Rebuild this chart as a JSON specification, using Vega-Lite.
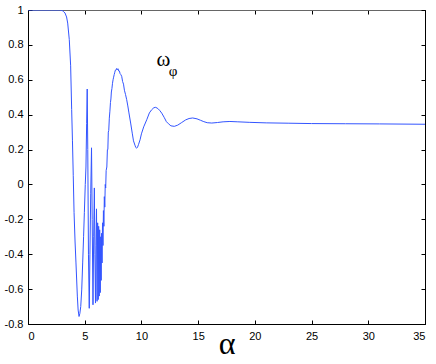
{
  "$schema": "https://vega.github.io/schema/vega-lite/v6.json",
  "width": 397,
  "height": 314,
  "autosize": {"type": "none"},
  "padding": {"left": 28, "top": 10, "right": 11, "bottom": 40},
  "background": "white",
  "config": {
    "view": {"stroke": "#000", "strokeWidth": 1},
    "axis": {
      "domainColor": "#000",
      "domainWidth": 1,
      "tickColor": "#000",
      "tickSize": -4,
      "grid": false,
      "labelFont": "Liberation Sans",
      "labelFontSize": 11,
      "labelColor": "#000"
    }
  },
  "datasets": {
    "curve": [
      {"a": 0, "w": 1}, {"a": 1, "w": 1}, {"a": 2, "w": 1}, {"a": 2.8, "w": 1}, {"a": 3.0, "w": 0.998},
      {"a": 3.15, "w": 0.99}, {"a": 3.26, "w": 0.983}, {"a": 3.4, "w": 0.96}, {"a": 3.5, "w": 0.925},
      {"a": 3.64, "w": 0.83}, {"a": 3.76, "w": 0.68}, {"a": 3.85, "w": 0.43}, {"a": 3.92, "w": 0.25},
      {"a": 3.99, "w": 0.05}, {"a": 4.06, "w": -0.16}, {"a": 4.15, "w": -0.33}, {"a": 4.23, "w": -0.45},
      {"a": 4.35, "w": -0.64}, {"a": 4.42, "w": -0.72}, {"a": 4.5, "w": -0.757}, {"a": 4.57, "w": -0.74},
      {"a": 4.65, "w": -0.7}, {"a": 4.74, "w": -0.6}, {"a": 4.82, "w": -0.45}, {"a": 4.9, "w": -0.3},
      {"a": 4.97, "w": -0.16}, {"a": 5.05, "w": 0.0}, {"a": 5.11, "w": 0.1}, {"a": 5.17, "w": 0.35},
      {"a": 5.22, "w": 0.547}, {"a": 5.27, "w": 0.2}, {"a": 5.33, "w": -0.4}, {"a": 5.4, "w": -0.71},
      {"a": 5.46, "w": -0.4}, {"a": 5.53, "w": -0.05}, {"a": 5.6, "w": 0.21}, {"a": 5.66, "w": -0.2},
      {"a": 5.73, "w": -0.69}, {"a": 5.79, "w": -0.3}, {"a": 5.85, "w": -0.02}, {"a": 5.9, "w": -0.4},
      {"a": 5.95, "w": -0.68}, {"a": 6.0, "w": -0.35}, {"a": 6.04, "w": -0.14}, {"a": 6.09, "w": -0.67},
      {"a": 6.14, "w": -0.22}, {"a": 6.19, "w": -0.66}, {"a": 6.23, "w": -0.24}, {"a": 6.28, "w": -0.64},
      {"a": 6.32, "w": -0.26}, {"a": 6.37, "w": -0.62}, {"a": 6.41, "w": -0.3}, {"a": 6.45, "w": -0.55},
      {"a": 6.49, "w": -0.28}, {"a": 6.53, "w": -0.45}, {"a": 6.57, "w": -0.22}, {"a": 6.61, "w": -0.35},
      {"a": 6.65, "w": -0.15}, {"a": 6.69, "w": -0.24}, {"a": 6.73, "w": -0.07}, {"a": 6.77, "w": -0.13},
      {"a": 6.81, "w": 0.0}, {"a": 6.85, "w": -0.02}, {"a": 6.89, "w": 0.08}, {"a": 6.95, "w": 0.1},
      {"a": 7.0, "w": 0.2}, {"a": 7.04, "w": 0.2}, {"a": 7.08, "w": 0.3}, {"a": 7.12, "w": 0.31},
      {"a": 7.17, "w": 0.38}, {"a": 7.22, "w": 0.42}, {"a": 7.27, "w": 0.47}, {"a": 7.31, "w": 0.49},
      {"a": 7.35, "w": 0.53}, {"a": 7.4, "w": 0.55}, {"a": 7.45, "w": 0.58}, {"a": 7.5, "w": 0.6},
      {"a": 7.55, "w": 0.615}, {"a": 7.6, "w": 0.63}, {"a": 7.64, "w": 0.64}, {"a": 7.7, "w": 0.655},
      {"a": 7.76, "w": 0.655}, {"a": 7.82, "w": 0.665}, {"a": 7.88, "w": 0.658}, {"a": 7.94, "w": 0.663},
      {"a": 8.0, "w": 0.65}, {"a": 8.06, "w": 0.65}, {"a": 8.12, "w": 0.635}, {"a": 8.18, "w": 0.63},
      {"a": 8.26, "w": 0.62}, {"a": 8.34, "w": 0.59}, {"a": 8.42, "w": 0.575}, {"a": 8.5, "w": 0.54},
      {"a": 8.6, "w": 0.515}, {"a": 8.7, "w": 0.486}, {"a": 8.8, "w": 0.45}, {"a": 8.9, "w": 0.41},
      {"a": 9.05, "w": 0.352}, {"a": 9.2, "w": 0.29}, {"a": 9.3, "w": 0.25}, {"a": 9.43, "w": 0.225},
      {"a": 9.5, "w": 0.212}, {"a": 9.58, "w": 0.208}, {"a": 9.66, "w": 0.214}, {"a": 9.75, "w": 0.23},
      {"a": 9.88, "w": 0.256}, {"a": 10.0, "w": 0.29}, {"a": 10.2, "w": 0.33}, {"a": 10.47, "w": 0.371},
      {"a": 10.7, "w": 0.41}, {"a": 10.9, "w": 0.428}, {"a": 11.1, "w": 0.44}, {"a": 11.26, "w": 0.442},
      {"a": 11.45, "w": 0.435}, {"a": 11.6, "w": 0.425}, {"a": 11.79, "w": 0.409}, {"a": 12.0, "w": 0.385},
      {"a": 12.2, "w": 0.36}, {"a": 12.38, "w": 0.348}, {"a": 12.6, "w": 0.336}, {"a": 12.9, "w": 0.333},
      {"a": 13.2, "w": 0.34}, {"a": 13.55, "w": 0.355}, {"a": 13.9, "w": 0.37}, {"a": 14.2, "w": 0.378},
      {"a": 14.52, "w": 0.381}, {"a": 14.9, "w": 0.376}, {"a": 15.2, "w": 0.368}, {"a": 15.5, "w": 0.36},
      {"a": 15.8, "w": 0.354}, {"a": 16.2, "w": 0.352}, {"a": 16.7, "w": 0.355}, {"a": 17.2, "w": 0.359},
      {"a": 17.8, "w": 0.361}, {"a": 18.5, "w": 0.359}, {"a": 19.5, "w": 0.356}, {"a": 21, "w": 0.353},
      {"a": 23, "w": 0.351}, {"a": 25, "w": 0.349}, {"a": 28, "w": 0.348}, {"a": 31, "w": 0.347},
      {"a": 35, "w": 0.345}
    ],
    "labels": [
      {"a": 11.93, "w": 0.677, "t": "ω", "s": "main"},
      {"a": 12.8, "w": 0.623, "t": "φ", "s": "sub"}
    ]
  },
  "layer": [
    {
      "data": {"name": "curve"},
      "mark": {"type": "line", "color": "#3355ff", "strokeWidth": 1, "clip": true},
      "encoding": {
        "x": {
          "field": "a", "type": "quantitative",
          "scale": {"domain": [0, 35], "nice": false, "zero": false},
          "axis": {
            "orient": "bottom", "values": [0, 5, 10, 15, 20, 25, 30, 35],
            "labelPadding": 10, "title": "α", "titleFont": "Liberation Serif",
            "titleFontSize": 32, "titleFontWeight": "normal", "titleColor": "#000",
            "titleBaseline": "alphabetic", "titleY": 29
          }
        },
        "y": {
          "field": "w", "type": "quantitative",
          "scale": {"domain": [-0.8, 1], "nice": false, "zero": false},
          "axis": {
            "orient": "left", "values": [-0.8, -0.6, -0.4, -0.2, 0, 0.2, 0.4, 0.6, 0.8, 1],
            "labelExpr": "'' + datum.value", "labelPadding": 9, "title": null
          }
        }
      }
    },
    {
      "data": {"name": "labels"},
      "mark": {"type": "text", "font": "Liberation Serif", "color": "#000", "baseline": "alphabetic", "align": "center"},
      "encoding": {
        "x": {
          "field": "a", "type": "quantitative",
          "scale": {"domain": [0, 35], "nice": false, "zero": false},
          "axis": {"orient": "top", "values": [0, 5, 10, 15, 20, 25, 30, 35], "labels": false, "title": null, "domainColor": "#666"}
        },
        "y": {
          "field": "w", "type": "quantitative",
          "scale": {"domain": [-0.8, 1], "nice": false, "zero": false},
          "axis": {"orient": "right", "values": [-0.8, -0.6, -0.4, -0.2, 0, 0.2, 0.4, 0.6, 0.8, 1], "labels": false, "title": null}
        },
        "text": {"field": "t"},
        "size": {
          "field": "s", "type": "nominal",
          "scale": {"domain": ["main", "sub"], "range": [21, 15]},
          "legend": null
        }
      }
    }
  ],
  "resolve": {"scale": {"x": "independent", "y": "independent"}, "axis": {"x": "independent", "y": "independent"}}
}
